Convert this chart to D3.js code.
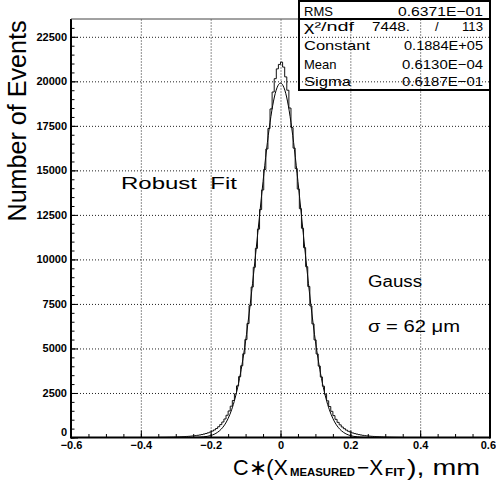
<!DOCTYPE html>
<html>
<head>
<meta charset="utf-8">
<script src="https://cdn.jsdelivr.net/npm/d3@7"></script>
<style>
body { margin: 0; background: white; }
text { font-family: "Liberation Sans", Arial, sans-serif; fill: black; }
</style>
</head>
<body>
<div id="vis"></div>
<script>
// histogram: 116 bins, width 0.006, first bin edge at -0.348
const binStart = -0.348;
const binWidth = 0.006;
const counts = [
    8, 10, 11, 13, 16, 18, 21, 25, 29, 34,
    39, 45, 52, 60, 69, 80, 92, 106, 122, 142,
    165, 193, 224, 262, 305, 360, 425, 505, 605, 725,
    870, 1040, 1250, 1490, 1760, 2080, 2450, 2900, 3420, 4030,
    4700, 5500, 6400, 7400, 8450, 9560, 10620, 11700, 12800, 13900,
    15050, 16200, 17350, 18450, 19400, 20150, 20700, 20950,
    21080, 20800, 20250, 19500, 18500, 17400, 16250, 15100, 13950, 12850,
    11750, 10660, 9590, 8480, 7385, 6380, 5480, 4690, 4010, 3400,
    2880, 2430, 2060, 1740, 1470, 1230, 1020, 850, 710, 590,
    495, 415, 350, 300, 255, 220, 190, 162, 140, 120,
    104, 91, 79, 68, 59, 51, 44, 38, 33, 28,
    24, 21, 18, 15, 13, 11, 9, 8
];

// gauss fit curve, read at steps of 0.01
const fitX = [-0.30, -0.29, -0.28, -0.27, -0.26, -0.25, -0.24, -0.23, -0.22, -0.21,
    -0.20, -0.19, -0.18, -0.17, -0.16, -0.15, -0.14, -0.13, -0.12, -0.11,
    -0.10, -0.09, -0.08, -0.07, -0.06, -0.05, -0.04, -0.03, -0.02, -0.01, 0,
    0.01, 0.02, 0.03, 0.04, 0.05, 0.06, 0.07, 0.08, 0.09, 0.10,
    0.11, 0.12, 0.13, 0.14, 0.15, 0.16, 0.17, 0.18, 0.19, 0.20,
    0.21, 0.22, 0.23, 0.24, 0.25, 0.26, 0.27, 0.28, 0.29, 0.30];
const fitY = [0, 0, 1, 2, 3, 6, 11, 20, 37, 64,
    110, 181, 295, 464, 712, 1067, 1556, 2210, 3060, 4120,
    5410, 6940, 8660, 10530, 12460, 14370, 16160, 17690, 18890, 19640, 19900,
    19640, 18890, 17690, 16160, 14370, 12460, 10530, 8660, 6940, 5410,
    4120, 3060, 2210, 1556, 1067, 712, 464, 295, 181, 110,
    64, 37, 20, 11, 6, 3, 2, 1, 0, 0];

// axes
const xTicks = [-0.6, -0.4, -0.2, 0, 0.2, 0.4, 0.6];
const xTickLabels = ["\u22120.6", "\u22120.4", "\u22120.2", "0", "0.2", "0.4", "0.6"];
const yTicks = [0, 2500, 5000, 7500, 10000, 12500, 15000, 17500, 20000, 22500];
const yTickLabels = ["0", "2500", "5000", "7500", "10000", "12500", "15000", "17500", "20000", "22500"];

// statistics box
const statNames = ["RMS", "\u03c7\u00b2/ndf", "Constant", "Mean", "Sigma"];
const statValues = ["0.6371E\u221201", "113", "0.1884E+05", "0.6130E\u221204", "0.6187E\u221201"];
const chi2 = "7448.";

let width = 496;
let height = 482;
let margin = { top: 19, bottom: 44.5, left: 71, right: 6 };

let svg = d3.select("#vis")
    .append("svg")
    .attr("width", width)
    .attr("height", height)
    .style("background", "white");

let xScale = d3.scaleLinear()
    .domain([-0.6, 0.6])
    .range([margin.left, width - margin.right]);

let yScale = d3.scaleLinear()
    .domain([0, 23500])
    .range([height - margin.bottom, margin.top]);

let x0 = margin.left, x1 = width - margin.right;
let y0 = height - margin.bottom, y1 = margin.top;

// dotted grid
svg.append("g")
    .attr("transform", `translate(0, ${y0})`)
    .call(d3.axisBottom(xScale).tickValues(xTicks.slice(1, -1)).tickSize(-(y0 - y1)).tickFormat(""))
    .call(g => g.select(".domain").remove())
    .selectAll("line")
    .attr("stroke", "#222")
    .attr("stroke-dasharray", "1 2");

svg.append("g")
    .attr("transform", `translate(${x0}, 0)`)
    .call(d3.axisLeft(yScale).tickValues(yTicks.slice(1)).tickSize(-(x1 - x0)).tickFormat(""))
    .call(g => g.select(".domain").remove())
    .selectAll("line")
    .attr("stroke", "#222")
    .attr("stroke-dasharray", "1 2");

// fit curve
let fitLine = d3.line()
    .x((d, i) => xScale(fitX[i]))
    .y(d => yScale(d))
    .curve(d3.curveMonotoneX);

svg.append("path")
    .datum(fitY)
    .attr("d", fitLine)
    .attr("fill", "none")
    .attr("stroke", "black")
    .attr("stroke-width", 1);

// histogram outline
let pts = [[binStart, 0]];
counts.forEach((c, i) => pts.push([binStart + i * binWidth, c]));
pts.push([binStart + counts.length * binWidth, 0]);

let histLine = d3.line()
    .x(d => xScale(d[0]))
    .y(d => yScale(d[1]))
    .curve(d3.curveStepAfter);

svg.append("path")
    .datum(pts)
    .attr("d", histLine)
    .attr("fill", "none")
    .attr("stroke", "#111")
    .attr("stroke-width", 1);

// minor ticks
svg.append("g")
    .attr("transform", `translate(0, ${y0})`)
    .call(d3.axisBottom(xScale).ticks(24).tickSize(-3.5).tickFormat(""))
    .call(g => g.select(".domain").remove());

svg.append("g")
    .attr("transform", `translate(${x0}, 0)`)
    .call(d3.axisLeft(yScale).tickValues(d3.range(0, 23500, 500)).tickSize(-3.5).tickFormat(""))
    .call(g => g.select(".domain").remove());

// major ticks and labels
let xAxis = svg.append("g")
    .attr("transform", `translate(0, ${y0})`)
    .call(d3.axisBottom(xScale).tickValues(xTicks).tickSize(-7).tickPadding(3.5)
        .tickFormat((d, i) => xTickLabels[i]));
xAxis.select(".domain").remove();
xAxis.selectAll("text")
    .style("font-size", "11px")
    .style("font-weight", "bold");
// last label sits at the window edge: keep it inside
xAxis.selectAll(".tick text").filter(d => d === 0.6)
    .attr("text-anchor", "end")
    .attr("x", width - 0.5 - xScale(0.6));

let yAxis = svg.append("g")
    .attr("transform", `translate(${x0}, 0)`)
    .call(d3.axisLeft(yScale).tickValues(yTicks).tickSize(-7).tickPadding(4)
        .tickFormat((d, i) => yTickLabels[i]));
yAxis.select(".domain").remove();
yAxis.selectAll("text")
    .style("font-size", "11px")
    .style("font-weight", "bold");
yAxis.selectAll(".tick text").filter(d => d === 0).attr("dy", "-0.15em");

// frame
svg.append("line").attr("x1", x0).attr("x2", x1).attr("y1", y0).attr("y2", y0)
    .attr("stroke", "black").attr("stroke-width", 2);
svg.append("line").attr("x1", x0).attr("x2", x0).attr("y1", y0 + 1).attr("y2", y1)
    .attr("stroke", "black").attr("stroke-width", 2);
svg.append("line").attr("x1", x1).attr("x2", x1).attr("y1", y0 + 1).attr("y2", 0)
    .attr("stroke", "black").attr("stroke-width", 2);
svg.append("line").attr("x1", x0).attr("x2", x1).attr("y1", y1).attr("y2", y1)
    .attr("stroke", "#444").attr("stroke-width", 1);

// stats box
let boxL = 299, rowBase = [15.5, 31, 50, 68.5, 85.5];
svg.append("rect")
    .attr("x", boxL).attr("y", 1)
    .attr("width", x1 - boxL).attr("height", 89)
    .attr("fill", "none").attr("stroke", "black").attr("stroke-width", 2);
svg.append("line").attr("x1", boxL).attr("x2", x1).attr("y1", y1).attr("y2", y1)
    .attr("stroke", "black").attr("stroke-width", 2);

// widths of the stretched texts, null = natural width
let nameWidths = [null, 50, 66, null, 47];
statNames.forEach((s, i) => {
    let t = svg.append("text")
        .attr("x", 304).attr("y", rowBase[i])
        .style("font-size", "13px")
        .text(s);
    if (nameWidths[i]) t.attr("textLength", nameWidths[i]).attr("lengthAdjust", "spacingAndGlyphs");
});
let valueWidths = [85, 21, 79, 81, 81];
statValues.forEach((s, i) => {
    svg.append("text")
        .attr("x", 483 - valueWidths[i]).attr("y", rowBase[i])
        .attr("textLength", valueWidths[i]).attr("lengthAdjust", "spacingAndGlyphs")
        .style("font-size", "13px")
        .text(s);
});
svg.append("text").attr("x", 372).attr("y", rowBase[1])
    .attr("textLength", 38).attr("lengthAdjust", "spacingAndGlyphs")
    .style("font-size", "13px").text(chi2);
svg.append("text").attr("x", 435).attr("y", rowBase[1])
    .style("font-size", "13px").text("/");

// annotations
svg.append("text")
    .attr("x", 121).attr("y", 188.5)
    .attr("textLength", 116).attr("lengthAdjust", "spacingAndGlyphs")
    .style("font-size", "17px").style("white-space", "pre")
    .text("Robust  Fit");
svg.append("text")
    .attr("x", 368).attr("y", 287)
    .attr("textLength", 54).attr("lengthAdjust", "spacingAndGlyphs")
    .style("font-size", "16px")
    .text("Gauss");
svg.append("text")
    .attr("x", 368).attr("y", 331.5)
    .attr("textLength", 92).attr("lengthAdjust", "spacingAndGlyphs")
    .style("font-size", "16px").style("white-space", "pre")
    .text("\u03c3 = 62 \u03bcm");

// axis titles
svg.append("text")
    .attr("transform", "translate(25.5, 121) rotate(-90)")
    .attr("text-anchor", "middle")
    .attr("textLength", 201).attr("lengthAdjust", "spacingAndGlyphs")
    .style("font-size", "25px")
    .text("Number of Events");

let xTitle = [
    { t: "C\u2217(X", x: 233, w: 55, big: true },
    { t: "MEASURED", x: 290, w: 65, big: false },
    { t: "\u2212X", x: 357, w: 26, big: true },
    { t: "FIT", x: 385, w: 20, big: false },
    { t: "), mm", x: 407, w: 73, big: true }
];
xTitle.forEach(p => {
    svg.append("text")
        .attr("x", p.x).attr("y", p.big ? 475 : 475.5)
        .attr("textLength", p.w).attr("lengthAdjust", "spacingAndGlyphs")
        .style("font-size", p.big ? "22px" : "11px")
        .style("font-weight", p.big ? "normal" : "bold")
        .style("white-space", "pre")
        .text(p.t);
});
</script>
</body>
</html>
